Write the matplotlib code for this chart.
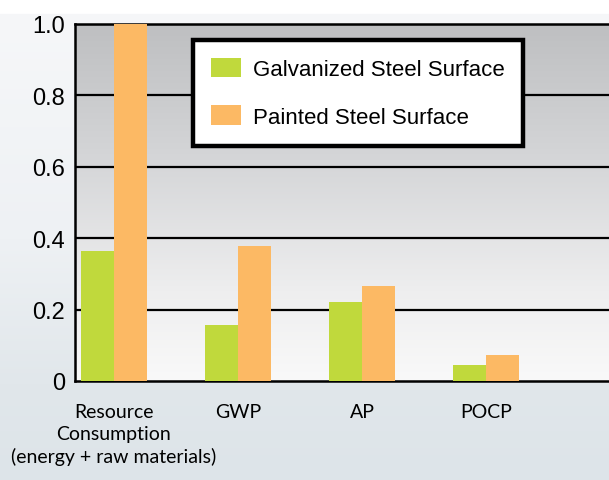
import numpy as np
import matplotlib
matplotlib.use("Agg")
import matplotlib.pyplot as plt
from matplotlib.colors import LinearSegmentedColormap

# ---- data ----
categories = ["Resource\nConsumption\n(energy + raw materials)", "GWP", "AP", "POCP"]
series_names = ["Galvanized Steel Surface", "Painted Steel Surface"]
galvanized = [0.364, 0.157, 0.221, 0.045]
painted = [1.0, 0.378, 0.266, 0.073]
y_ticks = [0, 0.2, 0.4, 0.6, 0.8, 1.0]
y_tick_labels = ["0", "0.2", "0.4", "0.6", "0.8", "1.0"]

GREEN = "#c0d93c"
ORANGE = "#fcb964"

W, H = 609, 481
fig = plt.figure(figsize=(W / 100, H / 100), dpi=100)

# figure background gradient (photo-like light blue-grey)
bg = fig.add_axes([0, 0, 1, 1], zorder=-10)
bg_cmap = LinearSegmentedColormap.from_list(
    "bg", [(0.0, "#ffffff"), (0.027, "#ffffff"), (0.03, "#f6f7f9"),
           (0.5, "#eef1f4"), (0.8, "#e1e7eb"), (1.0, "#dde4e9")])
grad = np.linspace(0, 1, 481).reshape(-1, 1)
bg.imshow(grad, cmap=bg_cmap, aspect="auto", extent=[0, 1, 1, 0])
bg.set_xlim(0, 1)
bg.set_ylim(1, 0)
bg.axis("off")

left_px, top_px, bottom_px = 75, 24.5, 382
ax = fig.add_axes([left_px / W, 1 - bottom_px / H, (W - left_px + 3) / W, (bottom_px - top_px) / H])

x = np.arange(len(categories))
bw = 0.266
ax.set_xlim(-0.3145, 3.992 + 3 / 124)
ax.set_ylim(0, 1.0)

# plot area gradient
pa_cmap = LinearSegmentedColormap.from_list(
    "pa", [(0.0, "#f9f9f9"), (0.25, "#eeeeef"), (0.6, "#d6d7d9"), (1.0, "#bebfc1")])
ax.imshow(np.linspace(0, 1, 256).reshape(-1, 1), cmap=pa_cmap, aspect="auto",
          extent=[-0.3145, 4.1, 0, 1.0], origin="lower", zorder=0)

for yv in y_ticks[1:]:
    ax.axhline(yv, color="black", lw=1.6, zorder=1)

ax.bar(x - bw / 2, galvanized, bw, color=GREEN, label=series_names[0], zorder=3)
ax.bar(x + bw / 2, painted, bw, color=ORANGE, label=series_names[1], zorder=3)

ax.spines["right"].set_visible(False)
for s in ["left", "bottom", "top"]:
    ax.spines[s].set_linewidth(1.8)
    ax.spines[s].set_color("black")
ax.spines["bottom"].set_zorder(2)

ax.set_yticks(y_ticks)
ax.set_yticklabels(y_tick_labels, fontfamily="Liberation Sans", fontsize=17)
ax.tick_params(axis="y", length=0, pad=7)
ax.set_xticks(x)
ax.set_xticklabels(categories, fontfamily="Lato", fontsize=14, linespacing=1.35)
ax.tick_params(axis="x", length=0, pad=16)

leg = ax.legend(loc="upper left", bbox_to_anchor=(193 / W, 1 - 41 / H),
                bbox_transform=fig.transFigure, borderaxespad=0,
                prop={"family": "Liberation Sans", "size": 16},
                fancybox=False, framealpha=1, edgecolor="black",
                handlelength=1.35, handleheight=0.95, handletextpad=0.55,
                labelspacing=1.12, borderpad=0.82)
leg.get_frame().set_linewidth(3.2)
leg.set_zorder(5)

fig.savefig("out.png", dpi=100)
